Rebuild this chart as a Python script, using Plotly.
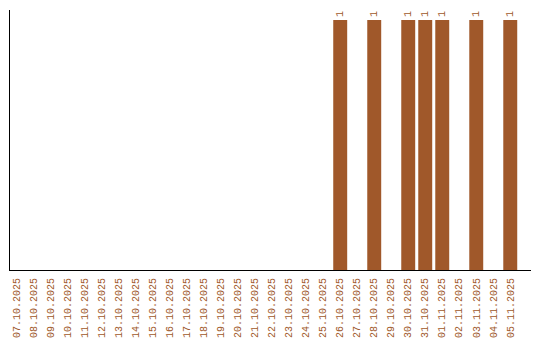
import plotly.graph_objects as go

dates = ["07.10.2025", "08.10.2025", "09.10.2025", "10.10.2025", "11.10.2025",
         "12.10.2025", "13.10.2025", "14.10.2025", "15.10.2025", "16.10.2025",
         "17.10.2025", "18.10.2025", "19.10.2025", "20.10.2025", "21.10.2025",
         "22.10.2025", "23.10.2025", "24.10.2025", "25.10.2025", "26.10.2025",
         "27.10.2025", "28.10.2025", "29.10.2025", "30.10.2025", "31.10.2025",
         "01.11.2025", "02.11.2025", "03.11.2025", "04.11.2025", "05.11.2025"]
counts = [0, 0, 0, 0, 0, 0, 0, 0, 0, 0, 0, 0, 0, 0, 0, 0, 0, 0, 0, 1,
          0, 1, 0, 1, 1, 1, 0, 1, 0, 1]

labels = [str(c) if c else "" for c in counts]

color = "#A0582A"
font = "Liberation Mono"

fig = go.Figure(go.Bar(
    x=dates, y=counts, marker_color=color, marker_line_width=0,
    text=labels, textposition="outside", textangle=-90,
    textfont=dict(family=font, size=10, color=color),
    cliponaxis=False,
))
fig.update_layout(
    width=540, height=340,
    margin=dict(l=10, r=9, t=10, b=70, autoexpand=False),
    plot_bgcolor="white", paper_bgcolor="white",
    bargap=0.18, showlegend=False,
    font=dict(family=font, size=10, color=color),
)
fig.update_xaxes(type="category", range=[-0.42, 30.22], tickangle=-90, showline=True,
                 linecolor="black", linewidth=1, showgrid=False, ticks="",
                 ticklabelstandoff=3,
                 automargin=False, tickfont=dict(family=font, size=10, color=color))
fig.update_yaxes(range=[0, 1.04], showline=True, linecolor="black", linewidth=1,
                 showgrid=False, showticklabels=False, ticks="", zeroline=False,
                 automargin=False)
fig.write_html("out.html")
